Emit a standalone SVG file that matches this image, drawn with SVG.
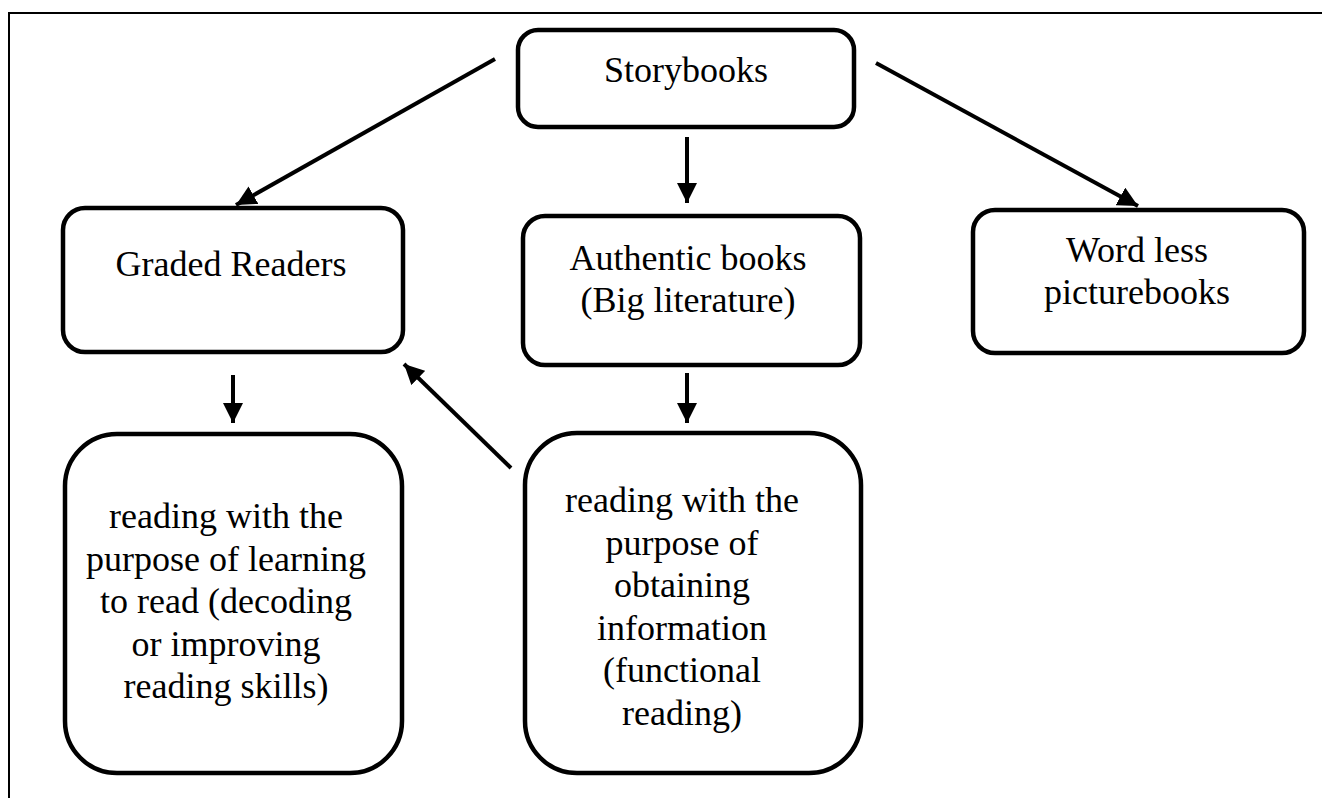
<svg xmlns="http://www.w3.org/2000/svg" width="1322" height="798" viewBox="0 0 1322 798">
<defs>
<style>
.box{fill:#fff;stroke:#000;stroke-width:4.5}
.lbl{font-size:36px;fill:#000;text-anchor:middle}
.conn line{stroke:#000;stroke-width:4}
</style>
<marker id="ah" viewBox="0 0 10 10" refX="10" refY="5" markerWidth="5" markerHeight="5" orient="auto" markerUnits="strokeWidth">
<path d="M0,0 L10,5 L0,10 Z" fill="#000"/>
</marker>
</defs>
<rect width="1322" height="798" fill="#fff"/>
<path d="M9,798 V13 H1322" fill="none" stroke="#000" stroke-width="2"/>
<g font-family="'Liberation Serif', 'DejaVu Serif', serif">
<g id="storybooks">
<rect class="box" x="518" y="30" width="336" height="97" rx="20"/>
<text class="lbl" x="686" y="82">Storybooks</text>
</g>
<g id="graded-readers">
<rect class="box" x="63" y="208" width="340" height="144" rx="22"/>
<text class="lbl" x="231" y="276">Graded Readers</text>
</g>
<g id="authentic-books">
<rect class="box" x="523" y="216" width="337" height="149" rx="22"/>
<text class="lbl" x="688" y="270">Authentic books</text>
<text class="lbl" x="688" y="312">(Big literature)</text>
</g>
<g id="wordless">
<rect class="box" x="973" y="210" width="331" height="143" rx="22"/>
<text class="lbl" x="1137" y="262">Word less</text>
<text class="lbl" x="1137" y="304">picturebooks</text>
</g>
<g id="learning-to-read">
<rect class="box" x="65" y="434" width="337" height="339" rx="52"/>
<text class="lbl" x="226" y="528">reading with the</text>
<text class="lbl" x="226" y="570.5">purpose of learning</text>
<text class="lbl" x="226" y="613">to read (decoding</text>
<text class="lbl" x="226" y="655.5">or improving</text>
<text class="lbl" x="226" y="698">reading skills)</text>
</g>
<g id="functional-reading">
<rect class="box" x="525" y="433" width="336" height="340" rx="52"/>
<text class="lbl" x="682" y="512">reading with the</text>
<text class="lbl" x="682" y="554.6">purpose of</text>
<text class="lbl" x="682" y="597.2">obtaining</text>
<text class="lbl" x="682" y="639.8">information</text>
<text class="lbl" x="682" y="682.4">(functional</text>
<text class="lbl" x="682" y="725">reading)</text>
</g>
</g>
<g id="connectors" class="conn">
<line x1="495" y1="59" x2="236" y2="205" marker-end="url(#ah)"/>
<line x1="687" y1="137" x2="687" y2="203" marker-end="url(#ah)"/>
<line x1="876" y1="63" x2="1138" y2="206" marker-end="url(#ah)"/>
<line x1="233" y1="375" x2="233" y2="423" marker-end="url(#ah)"/>
<line x1="687" y1="373" x2="687" y2="423" marker-end="url(#ah)"/>
<line x1="511" y1="468" x2="404" y2="364" marker-end="url(#ah)"/>
</g>
</svg>
